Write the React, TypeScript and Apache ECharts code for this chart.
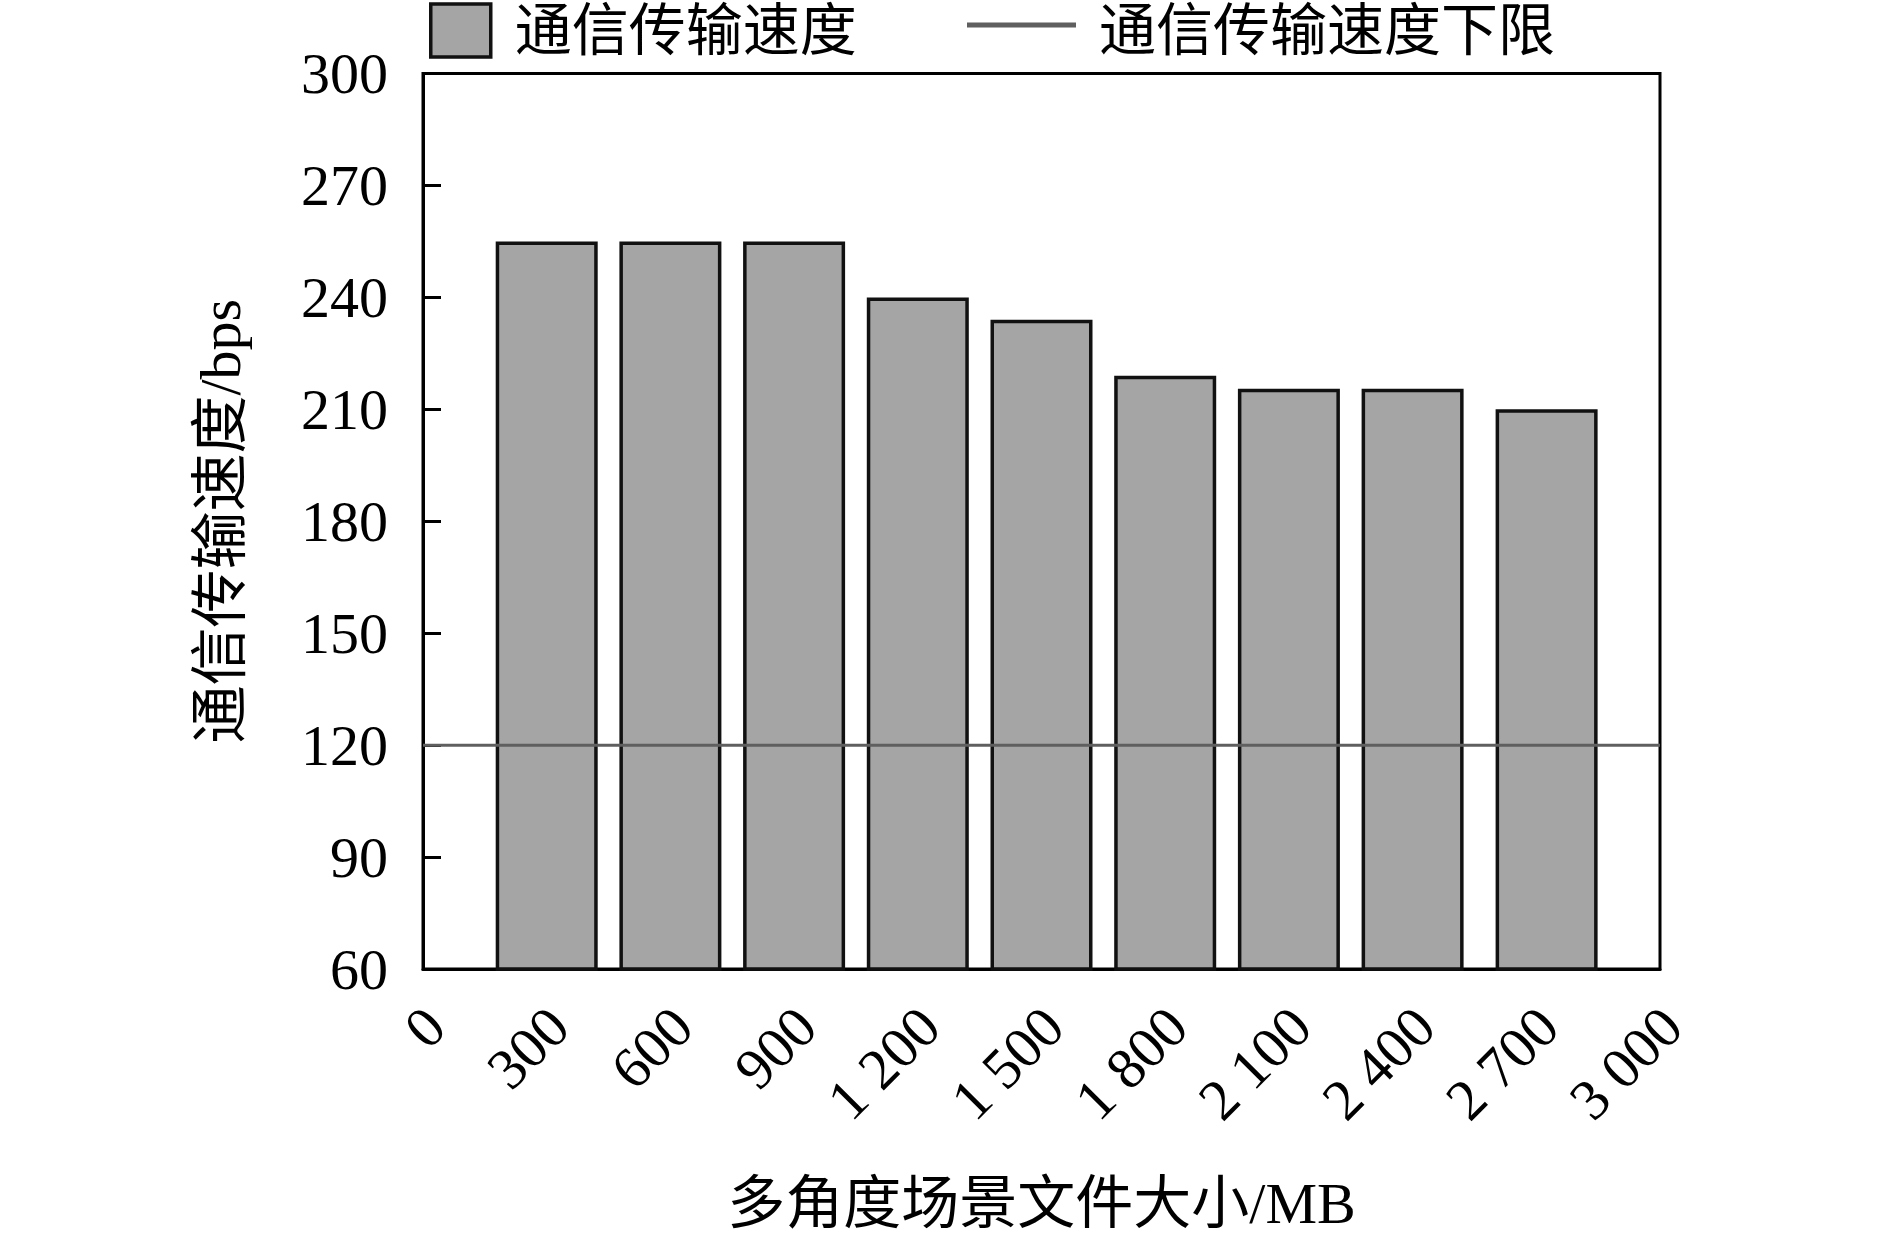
import React, { useEffect, useRef } from "react";
import * as echarts from "echarts";

const barName = "通信传输速度";
const lineName = "通信传输速度下限";
const xAxisTitle = "多角度场景文件大小/MB";
const yAxisTitle = "通信传输速度/bps";

// file size (MB) at each bar
const fileSizes = [300, 600, 900, 1200, 1500, 1800, 2100, 2400, 2725];
// transmission speed (bps)
const speeds = [255, 255, 255, 240, 234, 219, 215.5, 215.5, 210];
// lower limit line
const limitX = [0, 3000];
const limitY = [120, 120];

const xMin = 0;
const xMax = 3000;
const xInterval = 300;
const yMin = 60;
const yMax = 300;
const yInterval = 30;

const serif = "'Liberation Serif', 'Times New Roman', 'Noto Sans CJK SC', serif";
const cjk = "'Liberation Serif', 'Noto Sans CJK SC', sans-serif";

// legend icon for the limit line: a thin bar in the upper part of a 109x54 box
const lineIcon =
  "path://M0,0 L0.01,0 M0,19 L109,19 L109,24 L0,24 Z M0,54 L0.01,54";

function fmtThousands(v: number): string {
  const s = String(Math.round(v));
  return s.replace(/\B(?=(\d{3})+(?!\d))/g, " ");
}

export default function App() {
  const ref = useRef<HTMLDivElement>(null);
  useEffect(() => {
    if (!ref.current) return;
    const chart = echarts.init(ref.current, undefined, { renderer: "svg" });
    chart.setOption({
      animation: false,
      backgroundColor: "#ffffff",
      grid: {
        left: 423,
        right: 230,
        top: 73.5,
        bottom: 274,
        show: true,
        borderColor: "#000",
        borderWidth: 3,
        backgroundColor: "transparent",
      },
      legend: [
        {
          data: [barName],
          left: 429,
          top: 2,
          padding: 0,
          itemWidth: 60,
          itemHeight: 53,
          icon: "rect",
          itemStyle: { color: "#a5a5a5", borderColor: "#111", borderWidth: 3.5 },
          textStyle: { fontFamily: cjk, fontSize: 57, color: "#000", padding: [0, 0, 0, 19] },
        },
        {
          data: [{ name: lineName, icon: lineIcon }],
          left: 967,
          top: 2,
          padding: 0,
          itemWidth: 109,
          itemHeight: 54,
          itemStyle: { color: "#5f5f5f", borderWidth: 0 },
          textStyle: { fontFamily: cjk, fontSize: 57, color: "#000", padding: [0, 0, 0, 18] },
        },
      ],
      xAxis: {
        type: "value",
        min: xMin,
        max: xMax,
        interval: xInterval,
        name: xAxisTitle,
        nameLocation: "middle",
        nameGap: 205,
        nameTextStyle: { fontFamily: cjk, fontSize: 58, color: "#000" },
        axisLine: { show: true, lineStyle: { color: "#000", width: 3 } },
        axisTick: { show: false },
        splitLine: { show: false },
        axisLabel: {
          rotate: 45,
          margin: 60,
          padding: [0, -17, 0, 0],
          fontFamily: serif,
          fontSize: 58,
          color: "#000",
          formatter: (v: number) => fmtThousands(v),
        },
      },
      yAxis: {
        type: "value",
        min: yMin,
        max: yMax,
        interval: yInterval,
        name: yAxisTitle,
        nameLocation: "middle",
        nameGap: 174,
        nameTextStyle: { fontFamily: cjk, fontSize: 58, color: "#000" },
        axisLine: { show: true, lineStyle: { color: "#000", width: 3 } },
        axisTick: { show: true, inside: true, length: 18, lineStyle: { color: "#000", width: 3 } },
        splitLine: { show: false },
        axisLabel: { margin: 35, fontFamily: serif, fontSize: 58, color: "#000" },
      },
      series: [
        {
          name: barName,
          type: "bar",
          barWidth: 102,
          data: fileSizes.map((x, i) => [x, speeds[i]]),
          itemStyle: { color: "#a5a5a5", borderColor: "#111", borderWidth: 3.5 },
          z: 2,
        },
        {
          name: lineName,
          type: "line",
          symbol: "none",
          showSymbol: false,
          data: limitX.map((x, i) => [x, limitY[i]]),
          lineStyle: { color: "#5f5f5f", width: 3 },
          itemStyle: { color: "#5f5f5f" },
          z: 5,
        },
      ],
    });
    return () => chart.dispose();
  }, []);
  return (
    <div
      ref={ref}
      style={{ position: "fixed", left: 0, top: 0, width: 1890, height: 1243, background: "#fff" }}
    />
  );
}
